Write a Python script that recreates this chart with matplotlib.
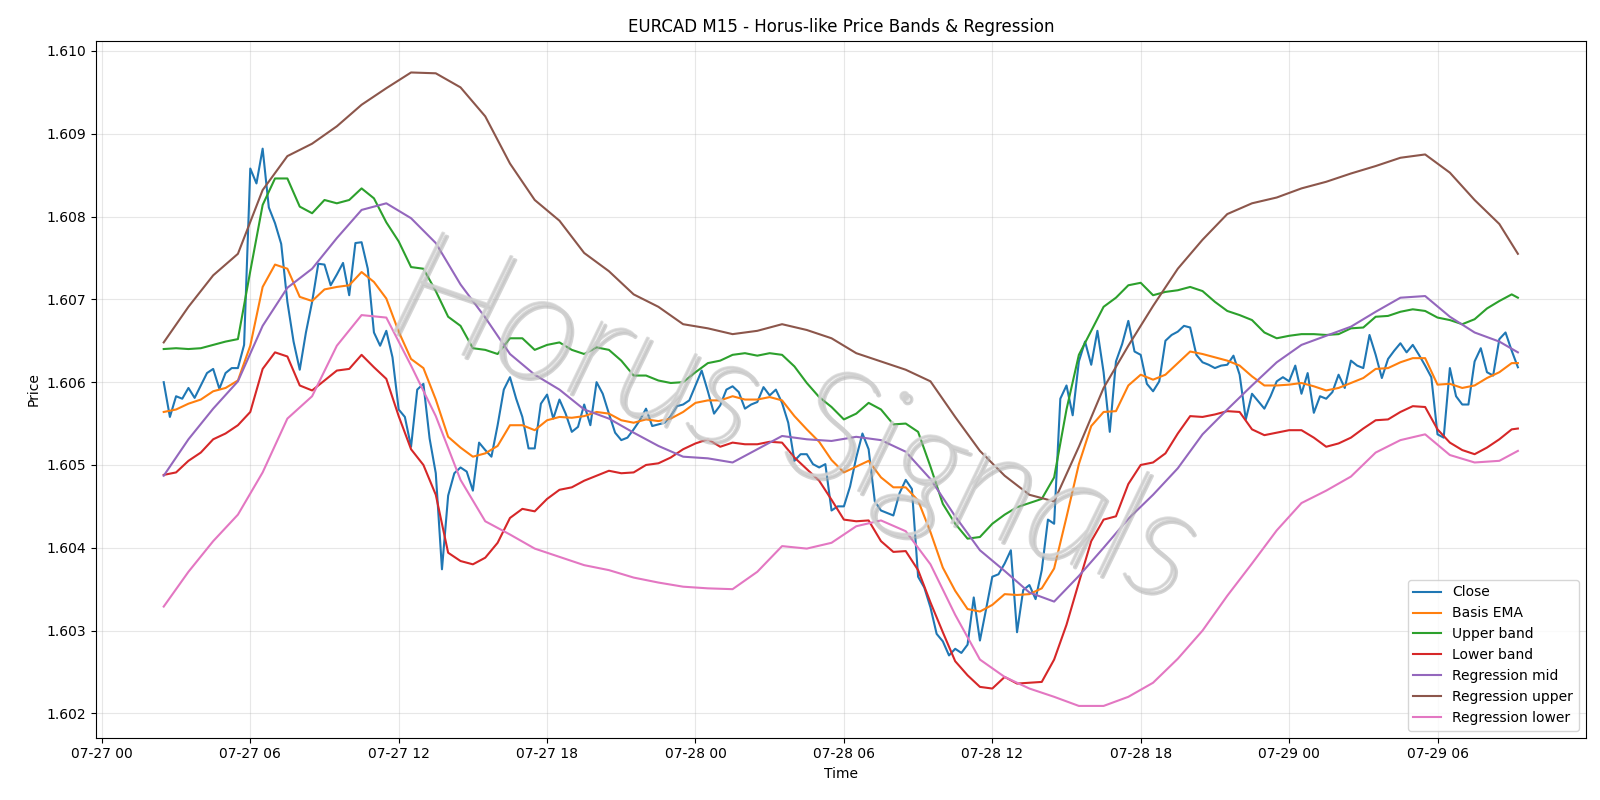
import pandas as pd
import matplotlib
matplotlib.use("Agg")
import matplotlib.pyplot as plt
import matplotlib.dates as mdates
import matplotlib.patheffects as pe

# 15 minute closes, 07-27 02:30 -> 07-29 09:15
close = [1.60600, 1.60558, 1.60583, 1.60580, 1.60593, 1.60581, 1.60596, 1.60611, 1.60616, 1.60592,
         1.60611, 1.60617, 1.60617, 1.60645, 1.60858, 1.60840, 1.60882, 1.60811, 1.60792, 1.60767,
         1.60697, 1.60649, 1.60615, 1.60660, 1.60697, 1.60743, 1.60742, 1.60717, 1.60730, 1.60744,
         1.60705, 1.60768, 1.60769, 1.60737, 1.60660, 1.60644, 1.60662, 1.60630, 1.60567, 1.60558,
         1.60522, 1.60591, 1.60598, 1.60532, 1.60490, 1.60374, 1.60463, 1.60490, 1.60497, 1.60492,
         1.60469, 1.60527, 1.60518, 1.60510, 1.60548, 1.60591, 1.60606, 1.60580, 1.60558, 1.60520,
         1.60520, 1.60574, 1.60585, 1.60556, 1.60579, 1.60562, 1.60540, 1.60546, 1.60573, 1.60548,
         1.60600, 1.60586, 1.60562, 1.60539, 1.60530, 1.60533, 1.60543, 1.60554, 1.60568, 1.60547,
         1.60549, 1.60551, 1.60559, 1.60571, 1.60573, 1.60578, 1.60596, 1.60614, 1.60589, 1.60562,
         1.60572, 1.60591, 1.60595, 1.60588, 1.60568, 1.60573, 1.60576, 1.60594, 1.60584, 1.60591,
         1.60575, 1.60551, 1.60505, 1.60513, 1.60513, 1.60501, 1.60497, 1.60501, 1.60445, 1.60450,
         1.60450, 1.60474, 1.60509, 1.60538, 1.60519, 1.60456, 1.60445, 1.60442, 1.60439, 1.60466,
         1.60482, 1.60471, 1.60365, 1.60352, 1.60328, 1.60296, 1.60287, 1.60270, 1.60278, 1.60273,
         1.60283, 1.60340, 1.60288, 1.60326, 1.60365, 1.60368, 1.60381, 1.60397, 1.60298, 1.60349,
         1.60355, 1.60338, 1.60373, 1.60434, 1.60429, 1.60580, 1.60596, 1.60560, 1.60625, 1.60649,
         1.60621, 1.60662, 1.60612, 1.60540, 1.60625, 1.60646, 1.60674, 1.60637, 1.60633, 1.60598,
         1.60589, 1.60601, 1.60650, 1.60657, 1.60661, 1.60668, 1.60666, 1.60633, 1.60624, 1.60621,
         1.60617, 1.60620, 1.60621, 1.60632, 1.60609, 1.60555, 1.60586, 1.60577, 1.60568, 1.60583,
         1.60601, 1.60606, 1.60601, 1.60620, 1.60586, 1.60611, 1.60563, 1.60583, 1.60580, 1.60588,
         1.60609, 1.60593, 1.60626, 1.60620, 1.60617, 1.60657, 1.60633, 1.60605, 1.60628, 1.60638,
         1.60647, 1.60636, 1.60645, 1.60633, 1.60620, 1.60606, 1.60537, 1.60533, 1.60617, 1.60583,
         1.60573, 1.60573, 1.60625, 1.60641, 1.60612, 1.60608, 1.60652, 1.60660, 1.60638, 1.60618]

# bands read every 30 min (+ last bar)
basis_ema = [1.60564, 1.60567, 1.60574, 1.60579, 1.60589, 1.60593, 1.60602, 1.60644, 1.60715, 1.60742,
             1.60737, 1.60703, 1.60698, 1.60712, 1.60715, 1.60717, 1.60733, 1.60721, 1.60701, 1.60661,
             1.60628, 1.60617, 1.60579, 1.60534, 1.60521, 1.60510, 1.60514, 1.60523, 1.60548, 1.60548,
             1.60542, 1.60554, 1.60558, 1.60557, 1.60559, 1.60564, 1.60562, 1.60554, 1.60551, 1.60555,
             1.60553, 1.60556, 1.60564, 1.60575, 1.60578, 1.60578, 1.60583, 1.60579, 1.60579, 1.60582,
             1.60578, 1.60559, 1.60543, 1.60528, 1.60506, 1.60491, 1.60498, 1.60505, 1.60485, 1.60473,
             1.60473, 1.60457, 1.60419, 1.60376, 1.60348, 1.60326, 1.60323, 1.60331, 1.60344, 1.60343,
             1.60344, 1.60351, 1.60375, 1.60437, 1.60501, 1.60547, 1.60564, 1.60565, 1.60596, 1.60609,
             1.60603, 1.60609, 1.60623, 1.60637, 1.60634, 1.60630, 1.60626, 1.60620, 1.60607, 1.60596,
             1.60596, 1.60597, 1.60599, 1.60595, 1.60590, 1.60593, 1.60599, 1.60605, 1.60616, 1.60617,
             1.60624, 1.60629, 1.60629, 1.60597, 1.60598, 1.60593, 1.60596, 1.60605, 1.60612, 1.60623,
             1.60623]

upper_band = [1.60640, 1.60641, 1.60640, 1.60641, 1.60645, 1.60649, 1.60652, 1.60734, 1.60814, 1.60846,
              1.60846, 1.60812, 1.60804, 1.60820, 1.60816, 1.60820, 1.60834, 1.60822, 1.60793, 1.60770,
              1.60739, 1.60737, 1.60710, 1.60679, 1.60668, 1.60641, 1.60639, 1.60634, 1.60653, 1.60653,
              1.60639, 1.60645, 1.60648, 1.60639, 1.60634, 1.60642, 1.60639, 1.60626, 1.60608, 1.60608,
              1.60602, 1.60599, 1.60600, 1.60612, 1.60623, 1.60626, 1.60633, 1.60635, 1.60632, 1.60635,
              1.60633, 1.60619, 1.60599, 1.60582, 1.60570, 1.60555, 1.60562, 1.60575, 1.60567, 1.60549,
              1.60550, 1.60540, 1.60498, 1.60453, 1.60429, 1.60411, 1.60413, 1.60429, 1.60440, 1.60449,
              1.60454, 1.60459, 1.60485, 1.60567, 1.60633, 1.60662, 1.60691, 1.60702, 1.60717, 1.60720,
              1.60705, 1.60709, 1.60711, 1.60715, 1.60710, 1.60697, 1.60686, 1.60681, 1.60675, 1.60660,
              1.60653, 1.60656, 1.60658, 1.60658, 1.60657, 1.60658, 1.60665, 1.60666, 1.60679, 1.60680,
              1.60685, 1.60688, 1.60686, 1.60678, 1.60675, 1.60670, 1.60676, 1.60689, 1.60698, 1.60706,
              1.60702]

lower_band = [1.60488, 1.60491, 1.60505, 1.60515, 1.60531, 1.60538, 1.60548, 1.60564, 1.60616, 1.60636,
              1.60631, 1.60596, 1.60590, 1.60602, 1.60614, 1.60616, 1.60633, 1.60618, 1.60604, 1.60559,
              1.60519, 1.60500, 1.60464, 1.60394, 1.60384, 1.60380, 1.60388, 1.60406, 1.60436, 1.60447,
              1.60444, 1.60459, 1.60470, 1.60473, 1.60481, 1.60487, 1.60493, 1.60490, 1.60491, 1.60500,
              1.60502, 1.60509, 1.60519, 1.60526, 1.60531, 1.60522, 1.60527, 1.60525, 1.60525, 1.60528,
              1.60527, 1.60509, 1.60495, 1.60481, 1.60458, 1.60434, 1.60432, 1.60433, 1.60408, 1.60395,
              1.60396, 1.60373, 1.60334, 1.60298, 1.60263, 1.60246, 1.60232, 1.60230, 1.60244, 1.60236,
              1.60237, 1.60238, 1.60265, 1.60307, 1.60358, 1.60408, 1.60434, 1.60438, 1.60477, 1.60500,
              1.60503, 1.60514, 1.60538, 1.60559, 1.60558, 1.60561, 1.60565, 1.60564, 1.60543, 1.60536,
              1.60539, 1.60542, 1.60542, 1.60533, 1.60522, 1.60526, 1.60533, 1.60544, 1.60554, 1.60555,
              1.60564, 1.60571, 1.60570, 1.60543, 1.60527, 1.60518, 1.60513, 1.60521, 1.60531, 1.60543,
              1.60544]

# regression channel read every hour (+ last bar)
reg_mid = [1.60487, 1.60531, 1.60568, 1.60601, 1.60668, 1.60714, 1.60737, 1.60774, 1.60808, 1.60816,
           1.60798, 1.60768, 1.60718, 1.60678, 1.60634, 1.60609, 1.60591, 1.60567, 1.60556, 1.60539,
           1.60523, 1.60510, 1.60508, 1.60503, 1.60519, 1.60535, 1.60531, 1.60529, 1.60534, 1.60530,
           1.60516, 1.60483, 1.60438, 1.60397, 1.60372, 1.60346, 1.60335, 1.60366, 1.60400, 1.60435,
           1.60464, 1.60496, 1.60537, 1.60567, 1.60596, 1.60624, 1.60645, 1.60656, 1.60667, 1.60685,
           1.60702, 1.60704, 1.60679, 1.60660, 1.60649, 1.60636]

reg_upper = [1.60648, 1.60691, 1.60729, 1.60755, 1.60832, 1.60873, 1.60888, 1.60909, 1.60935, 1.60955,
             1.60974, 1.60973, 1.60956, 1.60921, 1.60864, 1.60820, 1.60795, 1.60756, 1.60734, 1.60706,
             1.60691, 1.60670, 1.60665, 1.60658, 1.60662, 1.60670, 1.60663, 1.60653, 1.60635, 1.60625,
             1.60615, 1.60601, 1.60558, 1.60517, 1.60487, 1.60464, 1.60456, 1.60522, 1.60593, 1.60644,
             1.60692, 1.60737, 1.60772, 1.60803, 1.60816, 1.60823, 1.60834, 1.60842, 1.60852, 1.60861,
             1.60871, 1.60875, 1.60853, 1.60820, 1.60791, 1.60755]

reg_lower = [1.60329, 1.60371, 1.60408, 1.60440, 1.60491, 1.60556, 1.60583, 1.60644, 1.60681, 1.60678,
             1.60620, 1.60559, 1.60482, 1.60432, 1.60416, 1.60399, 1.60389, 1.60379, 1.60373, 1.60364,
             1.60358, 1.60353, 1.60351, 1.60350, 1.60371, 1.60402, 1.60399, 1.60406, 1.60426, 1.60433,
             1.60420, 1.60380, 1.60319, 1.60265, 1.60244, 1.60230, 1.60220, 1.60209, 1.60209, 1.60220,
             1.60237, 1.60266, 1.60300, 1.60342, 1.60381, 1.60421, 1.60454, 1.60469, 1.60486, 1.60515,
             1.60530, 1.60537, 1.60512, 1.60503, 1.60505, 1.60517]

times = pd.date_range("2025-07-27 02:30", periods=len(close), freq="15min")
band_times = times[list(range(0, len(close), 2)) + [len(close) - 1]]
reg_times = times[list(range(0, len(close), 4)) + [len(close) - 1]]

fig, ax = plt.subplots(figsize=(16, 8), dpi=100)
fig.subplots_adjust(left=0.06, right=0.991, top=0.949, bottom=0.078)

ax.plot(times, close, label="Close", lw=1.5)
ax.plot(band_times, basis_ema, label="Basis EMA", lw=1.5)
ax.plot(band_times, upper_band, label="Upper band", lw=1.5)
ax.plot(band_times, lower_band, label="Lower band", lw=1.5)
ax.plot(reg_times, reg_mid, label="Regression mid", lw=1.5)
ax.plot(reg_times, reg_upper, label="Regression upper", lw=1.5)
ax.plot(reg_times, reg_lower, label="Regression lower", lw=1.5)

ax.xaxis.set_major_locator(mdates.HourLocator(byhour=[0, 6, 12, 18]))
ax.xaxis.set_major_formatter(mdates.DateFormatter("%m-%d %H"))
ax.set_title("EURCAD M15 - Horus-like Price Bands & Regression")
ax.set_xlabel("Time")
ax.set_ylabel("Price")
ax.grid(True, alpha=0.3)
ax.legend(loc="lower right")

# watermark: hairline italic thickened by a stroke, plus an offset grey shadow
wm = ax.text(0.468, 0.45, "Horus Signals", transform=ax.transAxes,
             fontsize=112, style="italic", fontweight=200, family=["Lato", "DejaVu Sans"],
             color="#d0d0d0", alpha=0.7, rotation=-19,
             ha="center", va="center", zorder=5)
wm.set_path_effects([pe.Stroke(offset=(2.5, -2.5), linewidth=2.2, foreground="#a0a0a0", alpha=0.45),
                     pe.Stroke(linewidth=1.6, foreground="#d0d0d0", alpha=0.7),
                     pe.Normal()])

fig.savefig("out.png", dpi=100)
